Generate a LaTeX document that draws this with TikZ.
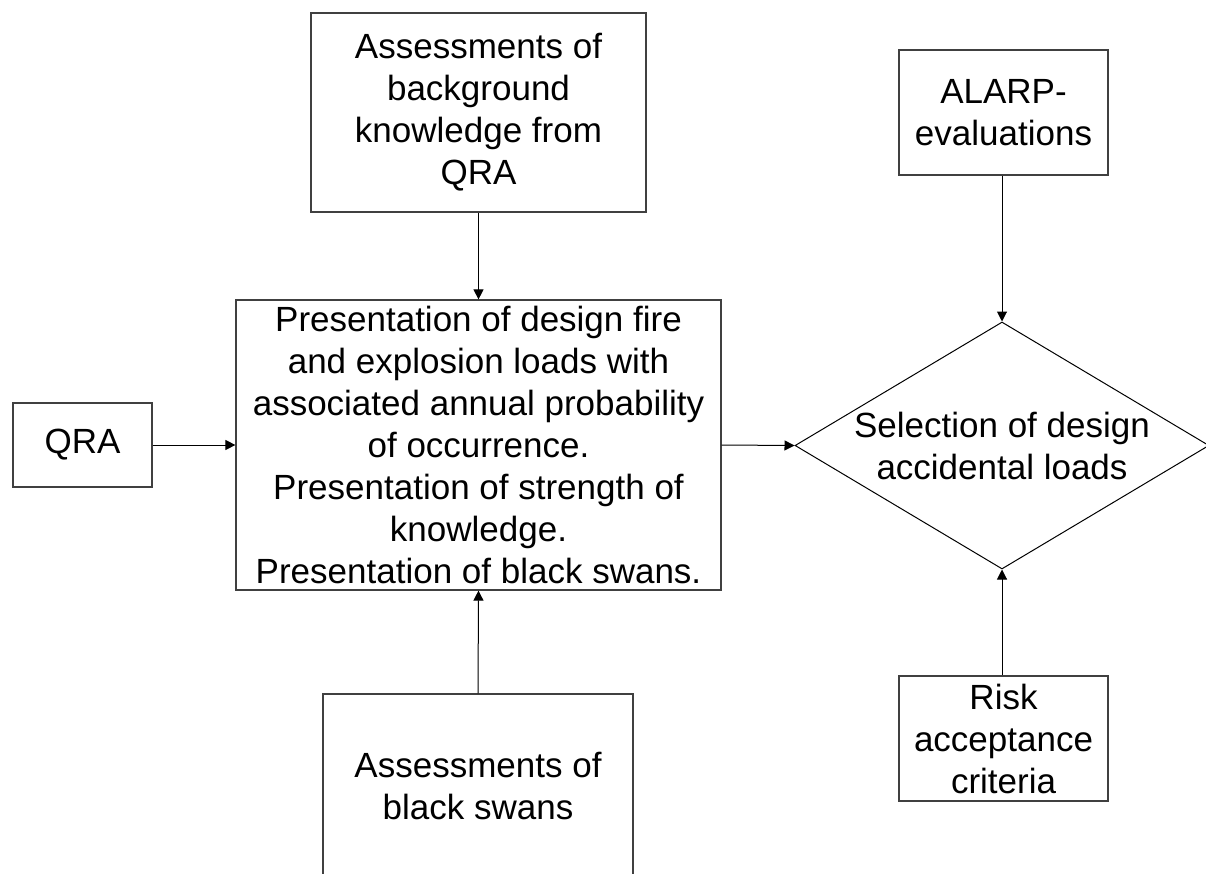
\documentclass[tikz,border=0pt]{standalone}
\usepackage{fontspec}
\setmainfont{Liberation Sans}
\usetikzlibrary{shapes.geometric,arrows.meta}

\tikzset{
  box/.style={draw=black!75, line width=1.2pt, rectangle, inner sep=0pt,
    align=center, font=\fontsize{35}{42}\selectfont},
  decision/.style={draw=black, line width=1pt, diamond, inner sep=0pt},
  label text/.style={inner sep=0pt, align=center, font=\fontsize{35}{42}\selectfont},
  flow/.style={draw=black, line width=1pt, -{Triangle[length=10pt,width=10pt]}}
}

\begin{document}
\begin{tikzpicture}[x=1pt, y=-1pt]
  \useasboundingbox (0,0) rectangle (1206,874);
  \clip (0,0) rectangle (1206,874);

  % input boxes around the central presentation step
  \node[box, minimum width=335pt, minimum height=199pt] (bk) at (478.5,112.5)
    {Assessments of\\background\\knowledge from\\QRA};
  \node[box, minimum width=485pt, minimum height=290pt] (pres) at (478.5,445)
    {Presentation of design fire\\and explosion loads with\\associated annual probability\\of occurrence.\\Presentation of strength of\\knowledge.\\Presentation of black swans.};
  \node[box, minimum width=139pt, minimum height=84pt] (qra) at (82.5,445) {QRA};
  \node[box, minimum width=310pt, minimum height=184pt] (bs) at (478,786)
    {Assessments of\\black swans};

  % decision step and its criteria
  \node[decision, minimum width=414pt, minimum height=247pt] (sel) at (1002,445.5) {};
  \node[label text] (seltext) at (sel.center) {Selection of design\\accidental loads};
  \node[box, minimum width=209pt, minimum height=125pt] (alarp) at (1003.5,112.5)
    {ALARP-\\evaluations};
  \node[box, minimum width=209pt, minimum height=125pt] (risk) at (1003.5,738.5)
    {Risk\\acceptance\\criteria};

  % connectors
  \draw[flow] (bk.south) -- (pres.north);
  \draw[flow] (qra.east) -- (pres.west);
  \draw[flow] (bs.north) -- (pres.south);
  \draw[flow] (pres.east) -- (sel.west);
  \draw[flow] (alarp.south -| sel.north) -- (sel.north);
  \draw[flow] (risk.north -| sel.south) -- (sel.south);
\end{tikzpicture}
\end{document}
